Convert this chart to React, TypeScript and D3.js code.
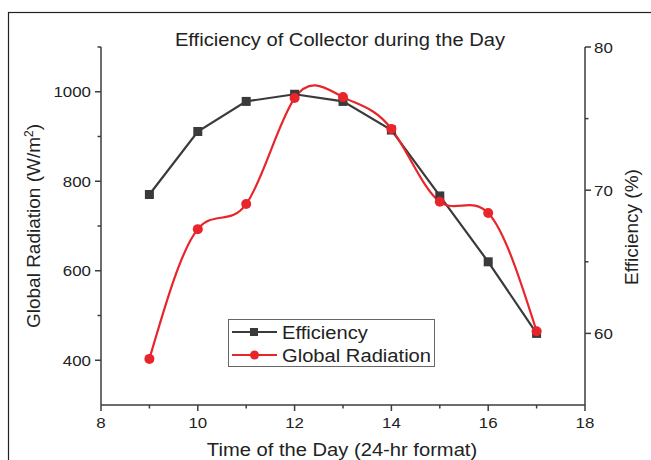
import React from "react";
import * as d3 from "d3";

const hours = [9, 10, 11, 12, 13, 14, 15, 16, 17];
const efficiency = [69.7, 74.1, 76.2, 76.7, 76.2, 74.2, 69.6, 65.0, 60.0];
const radiation = [403, 693, 749, 986, 988, 917, 754, 729, 465];
const xMajor = [8, 10, 12, 14, 16, 18];
const xMinor = [9, 11, 13, 15, 17];
const leftMajor = [400, 600, 800, 1000];
const leftMinor = [500, 700, 900, 1100];
const rightMajor = [60, 70, 80];
const rightMinor = [65, 75];

const W = 651, H = 460;
const FONT = "'Liberation Sans', Arial, sans-serif";
const AX = "#3c3c3c";
const BLACK = "#3a3a3a";
const RED = "#e8252b";
const SX = 1.09;

function T({ x, y, anchor = "start", size, children }: any) {
  return (
    <text
      transform={`translate(${x},${y}) scale(${SX},1)`}
      textAnchor={anchor}
      fontSize={size}
      fill="#222"
    >
      {children}
    </text>
  );
}

export default function App() {
  const x = d3.scaleLinear().domain([8, 18]).range([101, 585]);
  const yL = d3.scaleLinear().domain([300, 1100]).range([405, 47]);
  const yR = d3.scaleLinear().domain([55, 80]).range([405, 47]);

  const effLine = d3.line<number>().x((_, i) => x(hours[i])).y((d) => yR(d))(efficiency) || "";
  const radLine = d3
    .line<number>()
    .x((_, i) => x(hours[i]))
    .y((d) => yL(d))
    .curve(d3.curveNatural)(radiation) || "";

  const x0 = x(8), x1 = x(18), yb = yL(300), yt = yL(1100);

  return (
    <svg width={W} height={H} style={{ position: "absolute", left: 0, top: 0, background: "#fff" }} fontFamily={FONT}>
      <rect x={0} y={0} width={W} height={H} fill="#fff" />
      <rect x={8.5} y={12.5} width={700} height={500} fill="none" stroke="#222" strokeWidth={1.2} />

      <T x={340} y={46} anchor="middle" size={18.5}>Efficiency of Collector during the Day</T>

      {/* axes */}
      <g stroke={AX} strokeWidth={1.5} fill="none">
        <line x1={x0} y1={yt} x2={x0} y2={yb} />
        <line x1={x1} y1={yt} x2={x1} y2={yb} />
        <line x1={x0} y1={yb} x2={x1} y2={yb} />
        {leftMajor.map((v) => (
          <line key={"lm" + v} x1={x0 - 6} x2={x0} y1={yL(v)} y2={yL(v)} />
        ))}
        {leftMinor.map((v) => (
          <line key={"ln" + v} x1={x0 - 3.5} x2={x0} y1={yL(v)} y2={yL(v)} />
        ))}
        {rightMajor.map((v) => (
          <line key={"rm" + v} x1={x1} x2={x1 + 6} y1={yR(v)} y2={yR(v)} />
        ))}
        {rightMinor.map((v) => (
          <line key={"rn" + v} x1={x1} x2={x1 + 3.5} y1={yR(v)} y2={yR(v)} />
        ))}
        {xMajor.map((v) => (
          <line key={"xm" + v} x1={x(v)} x2={x(v)} y1={yb} y2={yb + 6} />
        ))}
        {xMinor.map((v) => (
          <line key={"xn" + v} x1={x(v)} x2={x(v)} y1={yb} y2={yb + 3.5} />
        ))}
      </g>

      {leftMajor.map((v) => (
        <T key={"lt" + v} x={x0 - 10} y={yL(v) + 5.5} anchor="end" size={15.5}>{v}</T>
      ))}
      {rightMajor.map((v) => (
        <T key={"rt" + v} x={x1 + 9} y={yR(v) + 5.5} size={15.5}>{v}</T>
      ))}
      {xMajor.map((v) => (
        <T key={"xt" + v} x={x(v)} y={yb + 23} anchor="middle" size={15.5}>{v}</T>
      ))}

      <T x={342} y={456} anchor="middle" size={18.5}>Time of the Day (24-hr format)</T>
      <text transform={`translate(40,226) rotate(-90)`} textAnchor="middle" fontSize={19} fill="#222">
        Global Radiation (W/m<tspan dy={-7} fontSize={12}>2</tspan><tspan dy={7}>)</tspan>
      </text>
      <text transform={`translate(638,227) rotate(-90)`} textAnchor="middle" fontSize={19} fill="#222">
        Efficiency (%)
      </text>

      {/* series */}
      <path d={effLine} fill="none" stroke={BLACK} strokeWidth={2.2} />
      <path d={radLine} fill="none" stroke={RED} strokeWidth={2.2} />
      {efficiency.map((d, i) => (
        <rect key={"s" + i} x={x(hours[i]) - 4.5} y={yR(d) - 4.5} width={9} height={9} fill={BLACK} />
      ))}
      {radiation.map((d, i) => (
        <circle key={"c" + i} cx={x(hours[i])} cy={yL(d)} r={5} fill={RED} />
      ))}

      {/* legend */}
      <rect x={228.5} y={319.5} width={206} height={47} fill="#fff" stroke="#666" strokeWidth={1} />
      <line x1={232} x2={277} y1={332} y2={332} stroke={BLACK} strokeWidth={2.2} />
      <rect x={250} y={328} width={8} height={8} fill={BLACK} />
      <T x={282} y={339} size={18.5}>Efficiency</T>
      <line x1={232} x2={277} y1={355} y2={355} stroke={RED} strokeWidth={2.2} />
      <circle cx={254.5} cy={355} r={4.5} fill={RED} />
      <T x={282} y={362} size={18.5}>Global Radiation</T>
    </svg>
  );
}
